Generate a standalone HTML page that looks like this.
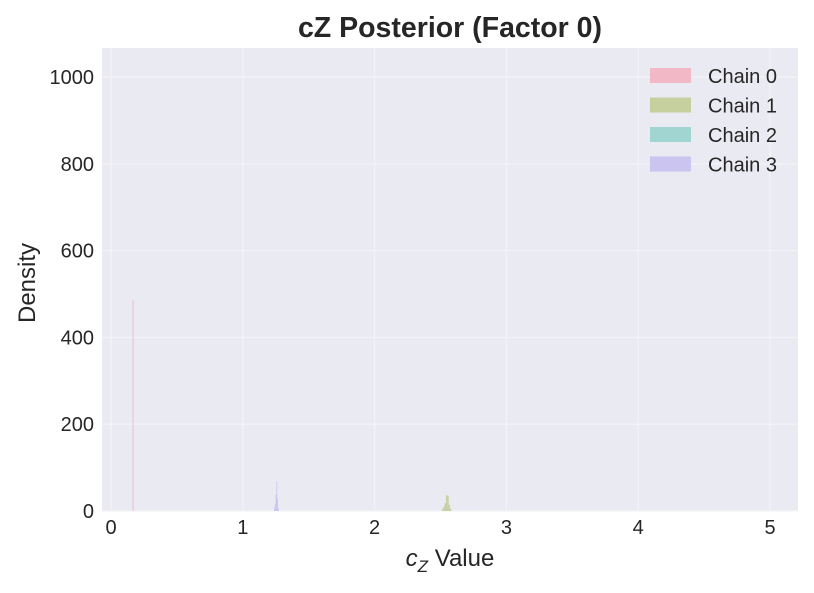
<!DOCTYPE html>
<html><head><meta charset="utf-8"><style>
body{margin:0;background:#fff;font-family:"Liberation Sans",sans-serif}
</style></head><body>
<svg id="chart" width="814" height="588" xmlns="http://www.w3.org/2000/svg" font-family="Liberation Sans, sans-serif">
<rect x="102" y="48" width="696" height="463" fill="#eaeaf2"/>
<g id="grid"></g><g id="bars"></g><g id="ticks"></g>
<text x="450" y="37" text-anchor="middle" font-size="28.5" font-weight="bold" fill="#262626">cZ Posterior (Factor 0)</text>
<text x="450" y="566" text-anchor="middle" font-size="24" fill="#262626"><tspan font-style="italic">c</tspan><tspan font-style="italic" font-size="17" dy="6">Z</tspan><tspan dy="-6"> Value</tspan></text>
<text transform="translate(35,283) rotate(-90)" text-anchor="middle" font-size="24" fill="#262626">Density</text>
<g id="legend"></g>
</svg>
<script>
const xTicks=[0,1,2,3,4,5];
const yTicks=[0,200,400,600,800,1000];
const chainNames=["Chain 0","Chain 1","Chain 2","Chain 3"];
const chainColors=["#f2b8c6","#c6cf9e","#a0d5d2","#cbc3f0"];
const chain0Start=0.164, chain0Width=0.007, chain0Values=[486];
const chain1Start=2.512, chain1Width=0.010, chain1Values=[5,10,18,37,35,14,5];
const chain2Start=0.160, chain2Width=0.007, chain2Values=[];
const chain3Start=1.237, chain3Width=0.006, chain3Values=[8,16,37,67,28,6];
const X=v=>111+v*131.8, Y=v=>511-v*0.434;
const NS="http://www.w3.org/2000/svg";
function mk(t,a,p){const e=document.createElementNS(NS,t);for(const k in a)e.setAttribute(k,a[k]);p.appendChild(e);return e;}
const grid=document.getElementById('grid'),ticks=document.getElementById('ticks'),bars=document.getElementById('bars');
xTicks.forEach(t=>{const l=mk('line',{x1:X(t),x2:X(t),y1:48,y2:511,stroke:'#f3f3f7','stroke-width':1.3},grid);


const tx=mk('text',{x:X(t),y:534,'text-anchor':'middle','font-size':20,fill:'#262626'},ticks);tx.textContent=t;

});
yTicks.forEach(t=>{const l=mk('line',{x1:102,x2:798,y1:Y(t),y2:Y(t),stroke:'#f3f3f7','stroke-width':1.3},grid);


const tx=mk('text',{x:94,y:Y(t)+7,'text-anchor':'end','font-size':20,fill:'#262626'},ticks);tx.textContent=t;

});
const chains=[[chain0Start,chain0Width,chain0Values],[chain1Start,chain1Width,chain1Values],[chain2Start,chain2Width,chain2Values],[chain3Start,chain3Width,chain3Values]];
chains.forEach((c,i)=>{c[2].forEach((v,j)=>{const x0=X(c[0]+j*c[1]),x1=X(c[0]+(j+1)*c[1]);
const r=mk('rect',{x:x0,y:Y(v),width:Math.max(x1-x0,0.8),height:Y(0)-Y(v),fill:chainColors[i]},bars);

});});
const lg=document.getElementById('legend');
chainNames.forEach((n,i)=>{const y=76+i*29.5;
const r=mk('rect',{x:650,y:y-8,width:41,height:15,fill:chainColors[i]},lg);


const t=mk('text',{x:708,y:y+7,'font-size':20,fill:'#262626'},lg);t.textContent=n;

});
</script>
</body></html>
